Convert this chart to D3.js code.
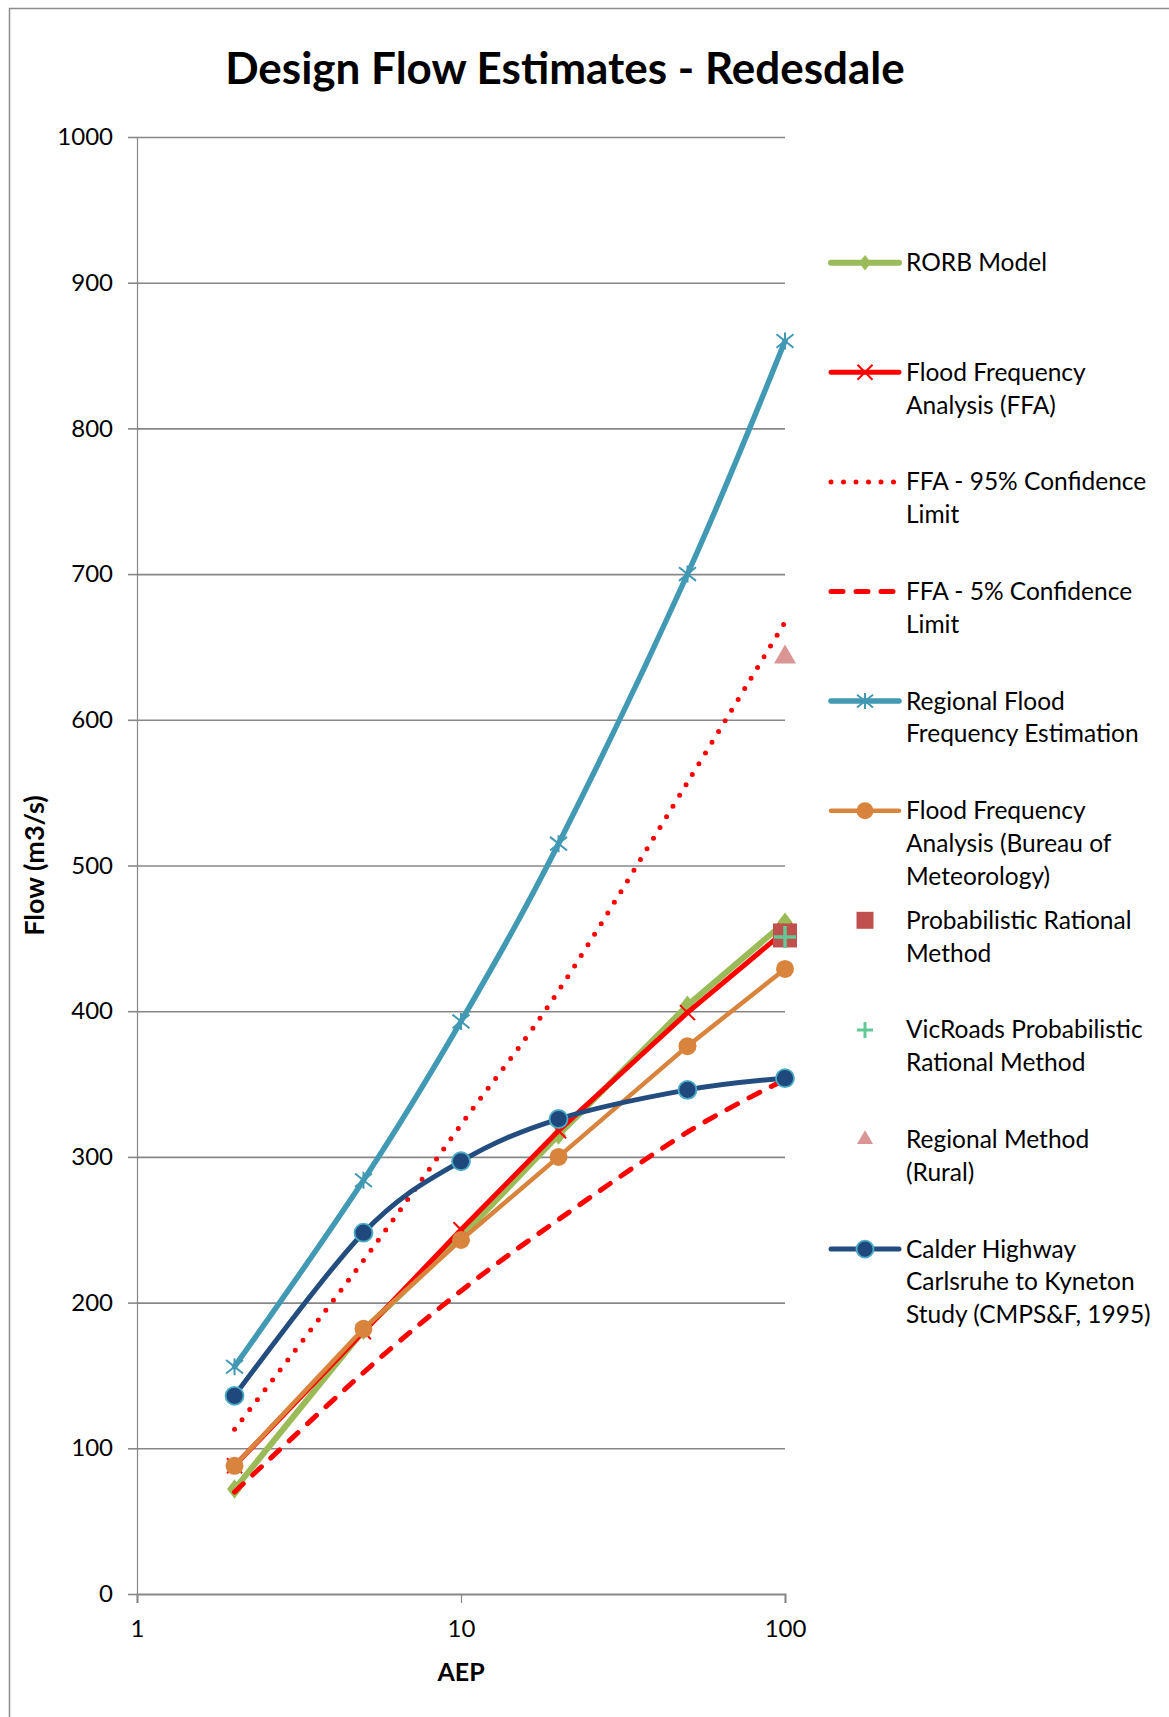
<!DOCTYPE html>
<html>
<head>
<meta charset="utf-8">
<script src="https://cdn.jsdelivr.net/npm/d3@7/dist/d3.min.js"></script>
<style>
  html, body { margin: 0; padding: 0; background: #fff; }
  svg { display: block; font-family: Lato, "Open Sans", sans-serif; }
</style>
</head>
<body>
<svg id="chart" width="1169" height="1717"></svg>
<script>
// Annual exceedance probability (1 in N) used for each estimate
const aep = [2, 5, 10, 20, 50, 100];
const aep100 = [100];

// Design flow estimates (m3/s)
const rorbModel     = [72, 181, 245, 315, 404, 461];
const ffaFlow       = [88, 180, 250, 318, 399, 455];
const ffaUpper95    = [113, 229, 322, 414, 557, 667];
const ffaLower5     = [70, 152, 208, 257, 317, 353];
const rffeFlow      = [156, 284, 393, 515, 700, 860];
const bomFfaFlow    = [88, 182, 243, 300, 376, 429];
const prmFlow       = [452];
const vicRoadsFlow  = [451];
const ruralFlow     = [643];
const calderFlow    = [136, 248, 297, 326, 346, 354];

// Axis tick values
const xTickValues = [1, 10, 100];
const yTickValues = [0, 100, 200, 300, 400, 500, 600, 700, 800, 900, 1000];

const svg = d3.select("#chart");
const W = 1169, H = 1717;
const plot = { left: 137, right: 785, top: 137, bottom: 1594 };

const x = d3.scaleLog().domain([1, 100]).range([plot.left, plot.right]);
const y = d3.scaleLinear().domain([0, 1000]).range([plot.bottom, plot.top]);

const gridColor = "#878787";

// Chart area frame
svg.append("rect").attr("x", 0).attr("y", 0).attr("width", W).attr("height", H).attr("fill", "#fff");
svg.append("rect")
  .attr("x", 9.5).attr("y", 8.5).attr("width", 1300).attr("height", 1900)
  .attr("fill", "none").attr("stroke", "#8c8c8c").attr("stroke-width", 1.5);

// Title
svg.append("text")
  .attr("x", 565).attr("y", 84)
  .attr("text-anchor", "middle")
  .attr("font-size", 44).attr("font-weight", 700)
  .attr("fill", "#000")
  .text("Design Flow Estimates - Redesdale");

// Horizontal gridlines
svg.append("g")
  .attr("transform", `translate(${plot.left},0)`)
  .call(d3.axisLeft(y).tickValues(yTickValues.filter(v => v > 0)).tickSize(-(plot.right - plot.left)).tickFormat(""))
  .call(g => g.select(".domain").remove())
  .call(g => g.selectAll("line").attr("stroke", gridColor).attr("stroke-width", 1.6));

// Y axis
svg.append("g")
  .attr("transform", `translate(${plot.left},0)`)
  .call(d3.axisLeft(y).tickValues(yTickValues).tickSize(9).tickPadding(15).tickFormat(d3.format("d")))
  .call(g => g.select(".domain").attr("stroke", gridColor).attr("stroke-width", 1.2))
  .call(g => g.selectAll("line").attr("stroke", gridColor).attr("stroke-width", 1.6))
  .call(g => g.selectAll("text").attr("font-size", 24).attr("fill", "#000").attr("font-family", "Lato, sans-serif"));

// X axis
svg.append("g")
  .attr("transform", `translate(0,${plot.bottom})`)
  .call(d3.axisBottom(x).tickValues(xTickValues).tickSize(9).tickPadding(17).tickFormat(d3.format("d")))
  .call(g => g.select(".domain").attr("stroke", gridColor).attr("stroke-width", 2))
  .call(g => g.selectAll("line").attr("stroke", gridColor).attr("stroke-width", 1.2))
  .call(g => g.selectAll("text").attr("font-size", 24).attr("fill", "#000").attr("font-family", "Lato, sans-serif"));

// Axis titles
svg.append("text")
  .attr("transform", `translate(44,${(plot.top + plot.bottom) / 2}) rotate(-90)`)
  .attr("text-anchor", "middle")
  .attr("font-size", 27).attr("font-weight", 700)
  .text("Flow (m3/s)");
svg.append("text")
  .attr("x", x(10)).attr("y", 1681)
  .attr("text-anchor", "middle")
  .attr("font-size", 25).attr("font-weight", 700)
  .text("AEP");

// Marker shapes
const markerPath = {
  diamond: s => `M0,${-s * 0.65}L${s * 0.5},0L0,${s * 0.65}L${-s * 0.5},0Z`,
  times: s => { const h = s / 2; return `M${-h},${-h}L${h},${h}M${-h},${h}L${h},${-h}`; },
  asterisk: s => { const h = s / 2; return `M${-h},${-h * 0.8}L${h},${h * 0.8}M${-h},${h * 0.8}L${h},${-h * 0.8}M0,${-h}L0,${h}`; },
  circle: s => d3.symbol(d3.symbolCircle, Math.PI * (s / 2) ** 2)(),
  square: s => `M${-s / 2},${-s / 2}h${s}v${s}h${-s}Z`,
  plus: s => { const h = s / 2; return `M${-h},0L${h},0M0,${-h}L0,${h}`; },
  triangle: s => { const h = s * Math.sqrt(3) / 2; return `M0,${-h * 2 / 3}L${s / 2},${h / 3}L${-s / 2},${h / 3}Z`; }
};

const smooth = d3.curveCardinal.tension(0);

// Series styles and drawing order
const series = [
  { name: ["RORB Model"], values: rorbModel, xs: aep, color: "#9BBB59", width: 6,
    marker: { type: "diamond", size: 15, fill: "#9BBB59" }, legendMarker: 12 },
  { name: ["Flood Frequency", "Analysis (FFA)"], values: ffaFlow, xs: aep, color: "#FF0000", width: 5,
    marker: { type: "times", size: 15, stroke: "#FF0000", sw: 2 }, legendMarker: 15 },
  { name: ["FFA - 95% Confidence", "Limit"], values: ffaUpper95, xs: aep, color: "#FF0000", width: 5,
    dash: "0 12.5", curve: smooth },
  { name: ["FFA - 5% Confidence", "Limit"], values: ffaLower5, xs: aep, color: "#FF0000", width: 5,
    dash: "12 13", curve: smooth },
  { name: ["Regional Flood", "Frequency Estimation"], values: rffeFlow, xs: aep, color: "#4199B4", width: 5.5,
    marker: { type: "asterisk", size: 17, stroke: "#4199B4", sw: 2 }, legendMarker: 16, curve: smooth },
  { name: ["Flood Frequency", "Analysis (Bureau of", "Meteorology)"], values: bomFfaFlow, xs: aep, color: "#D9843D", width: 4.5,
    marker: { type: "circle", size: 18, fill: "#D9843D" }, legendMarker: 17 },
  { name: ["Probabilistic Rational", "Method"], values: prmFlow, xs: aep100,
    marker: { type: "square", size: 24, fill: "#C0504D" }, legendMarker: 17 },
  { name: ["VicRoads Probabilistic", "Rational Method"], values: vicRoadsFlow, xs: aep100,
    marker: { type: "plus", size: 22, stroke: "#62C894", sw: 3.5 }, legendMarker: 16, legendSw: 3 },
  { name: ["Regional Method", "(Rural)"], values: ruralFlow, xs: aep100,
    marker: { type: "triangle", size: 22, fill: "#D99694" }, legendMarker: 16 },
  { name: ["Calder Highway", "Carlsruhe to Kyneton", "Study (CMPS&F, 1995)"], values: calderFlow, xs: aep, color: "#234D7E", width: 5,
    marker: { type: "circle", size: 18, fill: "#1F497D", stroke: "#4BACC6", sw: 1.8 }, legendMarker: 17, curve: smooth }
];

function drawMarker(g, m, size, sw) {
  g.append("path")
    .attr("d", markerPath[m.type](size))
    .attr("fill", m.fill || "none")
    .attr("stroke", m.stroke || "none")
    .attr("stroke-width", sw != null ? sw : (m.sw || 0));
}

const plotG = svg.append("g");
series.forEach(s => {
  const pts = s.xs.map((a, i) => [a, s.values[i]]);
  if (s.color && pts.length > 1) {
    const line = d3.line().x(d => x(d[0])).y(d => y(d[1])).curve(s.curve || d3.curveLinear);
    plotG.append("path")
      .attr("d", line(pts))
      .attr("fill", "none")
      .attr("stroke", s.color)
      .attr("stroke-width", s.width)
      .attr("stroke-linecap", "round")
      .attr("stroke-linejoin", "round")
      .attr("stroke-dasharray", s.dash || null);
  }
  if (s.marker) {
    pts.forEach(p => {
      const g = plotG.append("g").attr("transform", `translate(${x(p[0])},${y(p[1])})`);
      drawMarker(g, s.marker, s.marker.size);
    });
  }
});

// Legend
const legend = svg.append("g").attr("font-size", 24.5).attr("fill", "#000");
const legendTop = 262.7, legendStep = 109.6, lineGap = 32.8;
series.forEach((s, i) => {
  const cy = legendTop + i * legendStep;
  const g = legend.append("g").attr("transform", `translate(0,${cy})`);
  if (s.color) {
    g.append("line")
      .attr("x1", 831).attr("x2", 899).attr("y1", 0).attr("y2", 0)
      .attr("stroke", s.color).attr("stroke-width", s.width)
      .attr("stroke-linecap", "round")
      .attr("stroke-dasharray", s.dash || null);
  }
  if (s.marker) {
    const mg = g.append("g").attr("transform", "translate(865,0)");
    drawMarker(mg, s.marker, s.legendMarker, s.legendSw);
  }
  s.name.forEach((t, j) => {
    g.append("text")
      .attr("x", 906).attr("y", j * lineGap)
      .attr("dy", "0.35em")
      .text(t);
  });
});
</script>
</body>
</html>
